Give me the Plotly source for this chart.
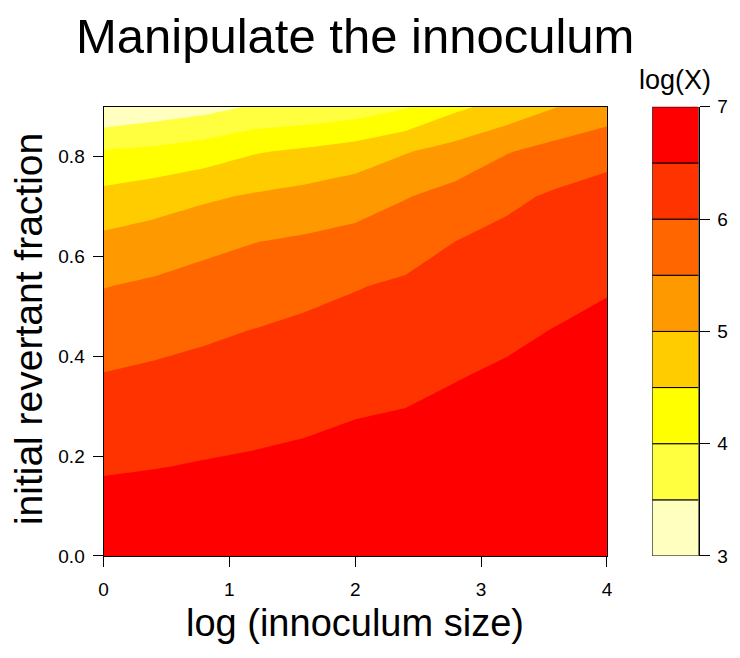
import plotly.graph_objects as go

# grid (x: log innoculum size, y: initial revertant fraction)
x_vals = [0.0, 0.4, 0.8, 1.2, 1.6, 2.0, 2.4, 2.8, 3.2, 3.6, 4.0]
y_vals = [0.0, 0.09, 0.18, 0.27, 0.36, 0.45, 0.54, 0.63, 0.72, 0.81, 0.90]

# log(X) values, one row per y value
z_row_00 = [6.95, 6.95, 6.95, 6.95, 6.95, 6.95, 6.95, 6.95, 6.95, 6.95, 6.95]
z_row_09 = [6.69, 6.716, 6.739, 6.758, 6.779, 6.798, 6.815, 6.835, 6.851, 6.864, 6.872]
z_row_18 = [6.446, 6.484, 6.528, 6.566, 6.608, 6.645, 6.68, 6.719, 6.752, 6.777, 6.795]
z_row_27 = [6.235, 6.285, 6.334, 6.381, 6.437, 6.507, 6.545, 6.604, 6.653, 6.691, 6.717]
z_row_36 = [6.023, 6.085, 6.143, 6.198, 6.263, 6.321, 6.391, 6.484, 6.554, 6.605, 6.64]
z_row_45 = [5.76, 5.845, 5.932, 6.016, 6.09, 6.149, 6.228, 6.324, 6.426, 6.518, 6.562]
z_row_54 = [5.487, 5.577, 5.72, 5.759, 5.88, 5.98, 6.066, 6.164, 6.264, 6.373, 6.48]
z_row_63 = [5.112, 5.227, 5.348, 5.49, 5.568, 5.658, 5.807, 6.003, 6.13, 6.23, 6.294]
z_row_72 = [4.642, 4.772, 4.932, 5.053, 5.155, 5.278, 5.478, 5.667, 5.90, 6.07, 6.17]
z_row_81 = [4.036, 4.117, 4.25, 4.464, 4.585, 4.731, 4.972, 5.189, 5.472, 5.68, 5.86]
z_row_90 = [3.03, 3.19, 3.33, 3.545, 3.6, 3.72, 3.95, 4.4, 4.67, 4.99, 5.22]

levels = [3.0, 3.5, 4.0, 4.5, 5.0, 5.5, 6.0, 6.5, 7.0]
level_colors = ["#FFFFBF", "#FFFF40", "#FFFF00", "#FFCC00",
                "#FF9900", "#FF6600", "#FF3300", "#FF0000"]
x_ticks = [0, 1, 2, 3, 4]
y_ticks = [0.0, 0.2, 0.4, 0.6, 0.8]
y_ticktext = ["0.0", "0.2", "0.4", "0.6", "0.8"]
key_ticks = [3, 4, 5, 6, 7]

z = [z_row_00, z_row_09, z_row_18, z_row_27, z_row_36, z_row_45,
     z_row_54, z_row_63, z_row_72, z_row_81, z_row_90]

# stepped colorscale
n = len(level_colors)
cscale = []
for i, c in enumerate(level_colors):
    cscale.append([i / n, c])
    cscale.append([(i + 1) / n, c])

W, H = 740, 658
FONT = "Liberation Sans, Arial, Helvetica, sans-serif"

fig = go.Figure()
fig.add_trace(go.Contour(
    x=x_vals, y=y_vals, z=z,
    zmin=levels[0], zmax=levels[-1],
    autocontour=False,
    contours=dict(start=levels[0], end=levels[-1], size=levels[1] - levels[0],
                  coloring="fill", showlines=False),
    line=dict(width=0, smoothing=0),
    colorscale=cscale, showscale=False, hoverinfo="skip",
))

# colour key (R filled.contour style)
fig.add_trace(go.Bar(
    x=[0] * n, y=[levels[i + 1] - levels[i] for i in range(n)],
    base=levels[:-1], width=1,
    marker=dict(color=level_colors, line=dict(color="black", width=1)),
    xaxis="x2", yaxis="y2", showlegend=False, hoverinfo="skip",
))

px_l, px_r, px_t, px_b = 100, 611, 100, 564
key_l, key_r = 657, 704

axis_common = dict(showgrid=False, zeroline=False, showline=True, linecolor="black",
                   linewidth=1, ticks="outside", ticklen=10, tickwidth=1,
                   tickcolor="black", tickfont=dict(family=FONT, size=19, color="black"))

fig.update_layout(
    width=W, height=H, autosize=False,
    margin=dict(l=0, r=0, t=0, b=0),
    paper_bgcolor="white", plot_bgcolor="white",
    showlegend=False,
    xaxis=dict(domain=[px_l / W, px_r / W], range=[0, 4], tickvals=x_ticks,
               mirror=True, ticklabelstandoff=6, **axis_common),
    yaxis=dict(domain=[1 - px_b / H, 1 - px_t / H], range=[0, 0.9], tickvals=y_ticks,
               ticktext=y_ticktext, mirror=True, ticklabelstandoff=4, **axis_common),
    xaxis2=dict(domain=[key_l / W, key_r / W], range=[-0.5, 0.5], visible=False,
                anchor="y2"),
    yaxis2=dict(domain=[1 - px_b / H, 1 - px_t / H], range=[3, 7], tickvals=key_ticks,
                side="right", anchor="x2", ticklabelstandoff=4, **axis_common),
    annotations=[
        dict(text="Manipulate the innoculum", x=(px_l + px_r) / 2 / W, y=1 - 27 / H,
             xref="paper", yref="paper", xanchor="center", yanchor="middle",
             showarrow=False, font=dict(family=FONT, size=49, color="black")),
        dict(text="log(X)", x=(key_l + key_r) / 2 / W, y=1 - 72 / H,
             xref="paper", yref="paper", xanchor="center", yanchor="middle",
             showarrow=False, font=dict(family=FONT, size=27, color="black")),
        dict(text="log (innoculum size)", x=(px_l + px_r) / 2 / W, y=1 - 633 / H,
             xref="paper", yref="paper", xanchor="center", yanchor="middle",
             showarrow=False, font=dict(family=FONT, size=38, color="black")),
        dict(text="initial revertant fraction", x=24 / W, y=1 - 330 / H,
             xref="paper", yref="paper", xanchor="center", yanchor="middle",
             textangle=-90, showarrow=False,
             font=dict(family=FONT, size=39, color="black")),
    ],
)

fig.write_html("out.html", config={"displayModeBar": False, "staticPlot": True},
               post_script="document.body.style.margin='0';document.body.style.overflow='hidden';")
